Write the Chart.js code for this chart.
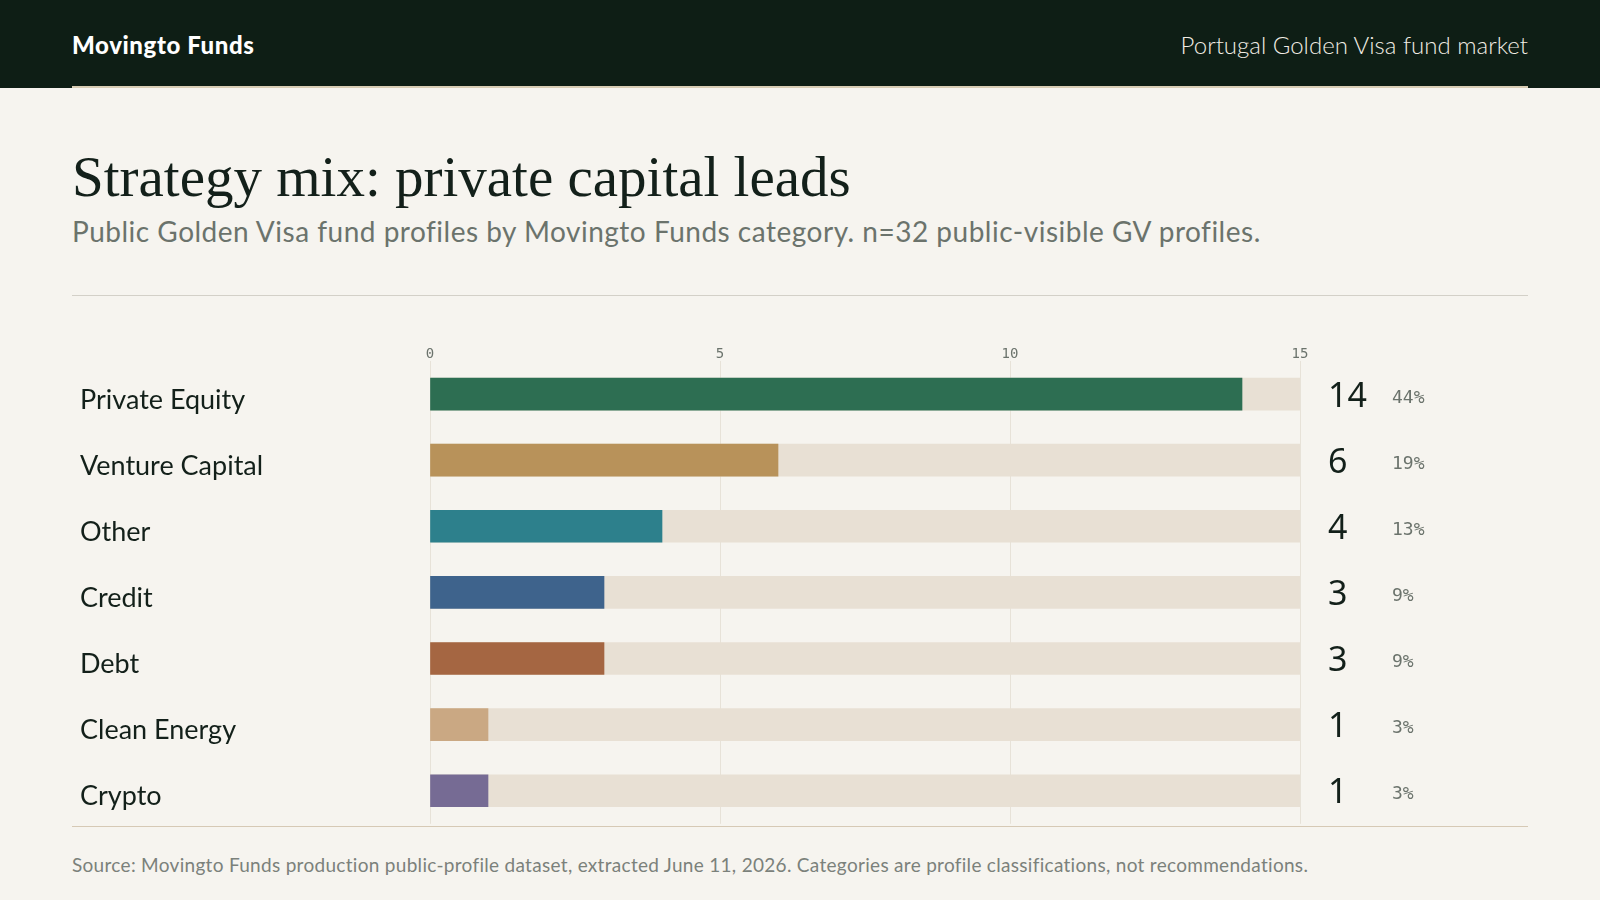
<!DOCTYPE html>
<html>
<head>
<meta charset="utf-8">
<script src="https://cdn.jsdelivr.net/npm/chart.js@4.4.1/dist/chart.umd.min.js"></script>
<style>
  html, body { margin: 0; padding: 0; }
  body { width: 1600px; height: 900px; background: #f6f4ef; position: relative; overflow: hidden; font-family: Lato, "Noto Sans", sans-serif; }
  .top { position: absolute; left: 0; top: 0; width: 1600px; height: 88px; background: #0e1e15; }
  .top .rule { position: absolute; left: 72px; right: 72px; bottom: 0; height: 2px; background: #d8cdb4; }
  .brand { position: absolute; left: 72px; top: 30px; color: #fff; font-weight: 900; font-size: 24px; letter-spacing: 0.6px; }
  .market { position: absolute; right: 72px; top: 30px; color: #f1ede4; font-weight: 300; font-size: 24px; }
  h1 { position: absolute; left: 72px; top: 144px; margin: 0; font-family: "Liberation Serif", Georgia, serif; font-weight: normal; font-size: 57px; color: #13201a; }
  .sub { position: absolute; left: 72px; top: 214px; font-size: 28px; letter-spacing: 0.5px; color: #6b736c; }
  .line { position: absolute; left: 72px; width: 1456px; height: 1px; }
  .foot { position: absolute; left: 72px; top: 853px; font-size: 19px; letter-spacing: 0.3px; color: #7b817b; }
  #wrap { position: absolute; left: 72px; top: 331px; width: 1456px; height: 512px; }
</style>
</head>
<body>
<div class="top"><div class="brand">Movingto Funds</div><div class="market">Portugal Golden Visa fund market</div><div class="rule"></div></div>
<h1>Strategy mix: private capital leads</h1>
<div class="sub">Public Golden Visa fund profiles by Movingto Funds category. n=32 public-visible GV profiles.</div>
<div class="line" style="top:295px;background:#d3d0c8"></div>
<div id="wrap"><canvas id="chart"></canvas></div>
<div class="line" style="top:826px;background:#d6c9b5"></div>
<div class="foot">Source: Movingto Funds production public-profile dataset, extracted June 11, 2026. Categories are profile classifications, not recommendations.</div>
<script>
const categories = ['Private Equity', 'Venture Capital', 'Other', 'Credit', 'Debt', 'Clean Energy', 'Crypto'];
const counts = [14, 6, 4, 3, 3, 1, 1];
const barColors = ['#2d6e52', '#b8925a', '#2d808c', '#3e638c', '#a56642', '#caa883', '#766b94'];
const xTicks = [0, 5, 10, 15];
const scaleMax = 15;

const total = counts.reduce((a, b) => a + b, 0);

// value + share labels to the right of the track
const valueLabels = {
    id: 'valueLabels',
    afterDatasetsDraw(chart) {
        const ctx = chart.ctx;
        const y = chart.scales.y;
        const right = chart.chartArea.right;
        ctx.save();
        ctx.textBaseline = 'middle';
        ctx.textAlign = 'left';
        counts.forEach((v, i) => {
            const py = y.getPixelForValue(i);
            ctx.fillStyle = '#13201a';
            ctx.font = '34px "Noto Sans", sans-serif';
            ctx.fillText(String(v), right + 28, py + 3);
            ctx.fillStyle = '#6b736c';
            ctx.font = '18px "DejaVu Sans Mono", monospace';
            ctx.fillText(Math.round(v / total * 100) + '%', right + 92, py + 4);
        });
        ctx.restore();
    }
};

new Chart(document.getElementById('chart'), {
    type: 'bar',
    data: {
        labels: categories,
        datasets: [{
            data: counts,
            backgroundColor: barColors,
            barThickness: 32,
            grouped: false,
            order: 0
        }, {
            data: categories.map(() => scaleMax),
            backgroundColor: '#e8e0d4',
            barThickness: 32,
            grouped: false,
            order: 1
        }]
    },
    options: {
        indexAxis: 'y',
        responsive: true,
        maintainAspectRatio: false,
        animation: false,
        layout: { padding: { left: 8, right: 228, bottom: 0, top: 0 } },
        plugins: { legend: { display: false }, tooltip: { enabled: false } },
        scales: {
            x: {
                position: 'top',
                min: 0,
                max: scaleMax,
                afterFit: (s) => { s.height = 30; },
                afterBuildTicks: (s) => { s.ticks = xTicks.map(v => ({ value: v })); },
                grid: { color: '#e7e2d8', drawTicks: false },
                border: { display: false },
                ticks: { padding: -2, color: '#6b736c', font: { family: '"DejaVu Sans Mono", monospace', size: 14 } }
            },
            y: {
                afterFit: (s) => { s.width = 350; },
                grid: { display: false },
                border: { display: false },
                ticks: { crossAlign: 'far', labelOffset: 6, color: '#13201a', font: { family: 'Lato, "Noto Sans", sans-serif', size: 27 } }
            }
        }
    },
    plugins: [valueLabels]
});
</script>
</body>
</html>
